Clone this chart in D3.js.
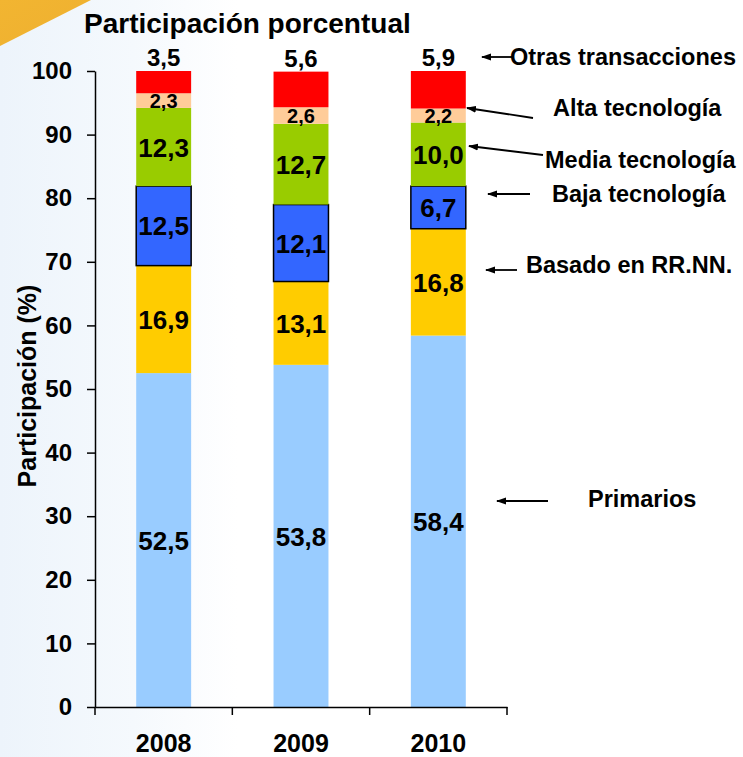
<!DOCTYPE html>
<html>
<head>
<meta charset="utf-8">
<script src="https://cdn.jsdelivr.net/npm/d3@7"></script>
<style>
  body { margin: 0; background: #fff; }
  svg { display: block; font-family: "Liberation Sans", Arial, sans-serif; font-weight: bold; }
  .axis path, .axis line { stroke: #000; stroke-width: 1.5px; }
  .axis text { fill: #000; font-weight: bold; }
</style>
</head>
<body>
<div id="chart"></div>
<script>
// data
var years      = ["2008", "2009", "2010"];
var primarios  = [52.5, 53.8, 58.4];
var basadoRRNN = [16.9, 13.1, 16.8];
var bajaTec    = [12.5, 12.1, 6.7];
var mediaTec   = [12.3, 12.7, 10.0];
var altaTec    = [2.3, 2.6, 2.2];
var otras      = [3.5, 5.6, 5.9];
var yTicks     = [0, 10, 20, 30, 40, 50, 60, 70, 80, 90, 100];

var keys = ["primarios", "basadoRRNN", "bajaTec", "mediaTec", "altaTec", "otras"];
var colors = {
	primarios:  "#99ccff",
	basadoRRNN: "#ffcc00",
	bajaTec:    "#3366ff",
	mediaTec:   "#99cc00",
	altaTec:    "#ffcc99",
	otras:      "#ff0000"
};

var table = years.map(function(y, i) {
	return { year: y, primarios: primarios[i], basadoRRNN: basadoRRNN[i], bajaTec: bajaTec[i],
		mediaTec: mediaTec[i], altaTec: altaTec[i], otras: otras[i] };
});

// annotations on the right (layout only)
var notes = [
	{ text: "Otras transacciones", x: 510, y: 65,  x1: 512, y1: 57,  x2: 482, y2: 57 },
	{ text: "Alta tecnología",     x: 553, y: 116, x1: 533, y1: 118, x2: 467, y2: 108 },
	{ text: "Media tecnología",    x: 545, y: 168, x1: 543, y1: 155, x2: 469, y2: 146 },
	{ text: "Baja tecnología",     x: 552, y: 202, x1: 530, y1: 194, x2: 488, y2: 194 },
	{ text: "Basado en RR.NN.",    x: 526, y: 273, x1: 517, y1: 270, x2: 486, y2: 270 },
	{ text: "Primarios",           x: 588, y: 507, x1: 548, y1: 501, x2: 497, y2: 501 }
];

var W = 743, H = 757;
var plot = { left: 95, right: 507, top: 71, bottom: 707 };

var es = d3.formatLocale({ decimal: ",", thousands: ".", grouping: [3], currency: ["", " €"] });
var fmt = es.format(".1f");

var svg = d3.select("#chart").append("svg").attr("width", W).attr("height", H);

// background
var defs = svg.append("defs");
var grad = defs.append("linearGradient").attr("id", "bg").attr("x1", 0).attr("x2", 1).attr("y1", 0).attr("y2", 0);
grad.append("stop").attr("offset", "0%").attr("stop-color", "#edf4fb");
grad.append("stop").attr("offset", "18%").attr("stop-color", "#f5f9fd");
grad.append("stop").attr("offset", "32%").attr("stop-color", "#ffffff");
svg.append("rect").attr("width", W).attr("height", H).attr("fill", "url(#bg)");

var gold = defs.append("linearGradient").attr("id", "gold").attr("x1", 0).attr("x2", 1).attr("y1", 0).attr("y2", 1);
gold.append("stop").attr("offset", "0%").attr("stop-color", "#f2b531");
gold.append("stop").attr("offset", "100%").attr("stop-color", "#eeb030");
svg.append("path").attr("d", "M0,0 L91,0 L0,46 Z").attr("fill", "url(#gold)");

defs.append("marker")
	.attr("id", "arrow")
	.attr("viewBox", "0 0 10 8")
	.attr("refX", 9).attr("refY", 4)
	.attr("markerUnits", "userSpaceOnUse")
	.attr("markerWidth", 10).attr("markerHeight", 8)
	.attr("orient", "auto")
	.append("path").attr("d", "M0,0.5 L10,4 L0,7.5 Z").attr("fill", "#000");

// scales
var x = d3.scaleBand().domain(years).range([plot.left, plot.right]).paddingInner(0.6).paddingOuter(0.3);
var y = d3.scaleLinear().domain([0, 100]).range([plot.bottom, plot.top]);

var series = d3.stack().keys(keys)(table);

// bars
var layers = svg.append("g").attr("class", "bars")
	.selectAll("g").data(series).enter().append("g")
	.attr("fill", function(d) { return colors[d.key]; });

layers.selectAll("rect")
	.data(function(d) { return d.map(function(p) { p.key = d.key; return p; }); })
	.enter().append("rect")
	.attr("x", function(d) { return x(d.data.year); })
	.attr("width", x.bandwidth())
	.attr("y", function(d) { return y(d[1]); })
	.attr("height", function(d) { return y(d[0]) - y(d[1]); })
	.attr("stroke", function(d) { return d.key === "bajaTec" ? "#000" : "none"; })
	.attr("stroke-width", 1.5);

// value labels
layers.selectAll("text")
	.data(function(d) { return d; })
	.enter().append("text")
	.attr("text-anchor", "middle")
	.attr("x", function(d) { return x(d.data.year) + x.bandwidth() / 2; })
	.attr("y", function(d) {
		if (d.key === "otras") return y(d[1]) - 5;
		return (y(d[0]) + y(d[1])) / 2;
	})
	.attr("dy", function(d) { return d.key === "otras" ? 0 : "0.37em"; })
	.style("font-size", function(d) {
		if (d.key === "altaTec") return "20px";
		if (d.key === "otras") return "24px";
		return "26px";
	})
	.attr("fill", "#000")
	.text(function(d) { return fmt(d[1] - d[0]); });

// y axis
svg.append("g")
	.attr("class", "axis y")
	.attr("transform", "translate(" + plot.left + ",0)")
	.call(d3.axisLeft(y).tickValues(yTicks).tickSize(8).tickSizeOuter(0).tickPadding(15).tickFormat(d3.format("d")))
	.selectAll("text").style("font-size", "24px");

// x axis: labels centred under bars, ticks between categories
var xAxis = svg.append("g")
	.attr("class", "axis x")
	.attr("transform", "translate(0," + plot.bottom + ")")
	.call(d3.axisBottom(x).tickSize(0).tickSizeOuter(0).tickPadding(28));
xAxis.selectAll("text").style("font-size", "25px").attr("dy", "0.68em");

var bounds = d3.range(years.length + 1).map(function(i) { return plot.left + i * x.step(); });
xAxis.selectAll(".bound").data(bounds).enter().append("line")
	.attr("class", "bound")
	.attr("x1", function(d) { return d; }).attr("x2", function(d) { return d; })
	.attr("y1", 0).attr("y2", 8);

// y axis title
svg.append("text")
	.attr("transform", "translate(36," + 386 + ") rotate(-90)")
	.attr("text-anchor", "middle")
	.style("font-size", "25px")
	.text("Participación (%)");

// title
svg.append("text")
	.attr("x", 84).attr("y", 33)
	.style("font-size", "28px")
	.text("Participación porcentual");

// annotations
var ann = svg.append("g").attr("class", "notes");
ann.selectAll("line").data(notes).enter().append("line")
	.attr("x1", function(d) { return d.x1; }).attr("y1", function(d) { return d.y1; })
	.attr("x2", function(d) { return d.x2; }).attr("y2", function(d) { return d.y2; })
	.attr("stroke", "#000").attr("stroke-width", 1.8)
	.attr("marker-end", "url(#arrow)");
ann.selectAll("text").data(notes).enter().append("text")
	.attr("x", function(d) { return d.x; }).attr("y", function(d) { return d.y; })
	.style("font-size", "23.5px")
	.text(function(d) { return d.text; });
</script>
</body>
</html>
